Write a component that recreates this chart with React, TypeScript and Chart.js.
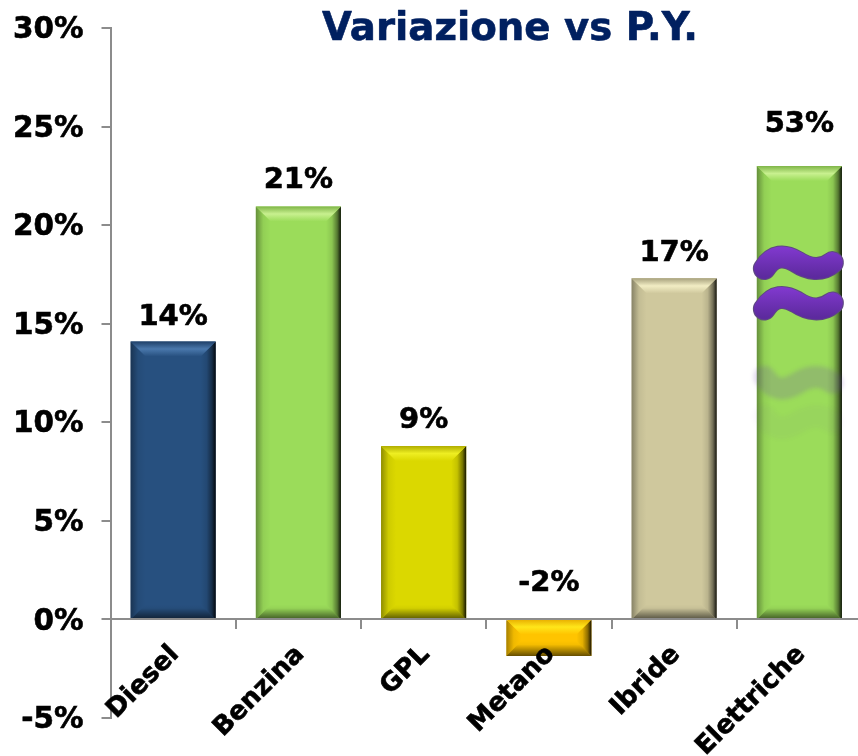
import React, { useEffect, useRef } from "react";
import { Chart, registerables } from "chart.js";

Chart.register(...registerables);

const categories = ["Diesel", "Benzina", "GPL", "Metano", "Ibride", "Elettriche"];
const values = [14.1, 20.95, 8.8, -1.85, 17.3, 23.0];
const shownLabels = ["14%", "21%", "9%", "-2%", "17%", "53%"];
const labelLevels = [15.45, 22.4, 10.2, 1.95, 18.7, 25.25];
const barColors = ["#27507f", "#9bdc5a", "#dbd800", "#ffc400", "#cfc89d", "#9bdc5a"];
const highlightColors = ["#4a78ac", "#c8f08f", "#eeee22", "#ffe61a", "#f2edc4", "#c8f08f"];
const edgeColors = ["#1f4068", "#7fb548", "#b0ad00", "#e8ae00", "#a8a27e", "#7fb548"];
const breakLevels = [18.1, 16.05];
const ghostLevels = [12.0, 10.0];
const ghostAlpha = [0.2, 0.04];
const breakIndex = 5;

const FONT = '"DejaVu Sans", Verdana, sans-serif';
const GREY = "#8c8c8c";

function bevel(ctx: CanvasRenderingContext2D, l: number, t: number, r: number, b: number, i: number) {
  const d = Math.min(15, Math.abs(b - t) / 2);
  const band = (pts: number[][], g: CanvasGradient) => {
    ctx.fillStyle = g;
    ctx.beginPath();
    pts.forEach((p, n) => (n ? ctx.lineTo(p[0], p[1]) : ctx.moveTo(p[0], p[1])));
    ctx.closePath();
    ctx.fill();
  };
  const right = ctx.createLinearGradient(r - d, 0, r, 0);
  right.addColorStop(0, "rgba(0,0,0,0)");
  right.addColorStop(0.4, "rgba(0,0,0,0.1)");
  right.addColorStop(0.75, "rgba(0,0,0,0.45)");
  right.addColorStop(1, "rgba(0,0,0,0.9)");
  band([[r, t], [r, b], [r - d, b - d], [r - d, t + d]], right);

  const left = ctx.createLinearGradient(l, 0, l + d, 0);
  left.addColorStop(0, "rgba(0,0,0,0.35)");
  left.addColorStop(0.5, "rgba(0,0,0,0.06)");
  left.addColorStop(1, "rgba(0,0,0,0)");
  band([[l, t], [l + d, t + d], [l + d, b - d], [l, b]], left);

  const top = ctx.createLinearGradient(0, t, 0, t + d);
  top.addColorStop(0, edgeColors[i]);
  top.addColorStop(0.5, highlightColors[i]);
  top.addColorStop(1, barColors[i]);
  band([[l, t], [r, t], [r - d, t + d], [l + d, t + d]], top);

  const bottom = ctx.createLinearGradient(0, b - d, 0, b);
  bottom.addColorStop(0, "rgba(0,0,0,0)");
  bottom.addColorStop(0.25, "rgba(0,0,0,0.04)");
  bottom.addColorStop(1, "rgba(0,0,0,0.6)");
  band([[l + d, b - d], [r - d, b - d], [r, b], [l, b]], bottom);
}

function wave(ctx: CanvasRenderingContext2D, cx: number, cy: number, flip: number) {
  ctx.beginPath();
  ctx.moveTo(cx - 34, cy + 6 * flip);
  ctx.bezierCurveTo(cx - 25, cy - 8 * flip, cx - 14, cy - 8 * flip, cx - 2, cy - 1 * flip);
  ctx.bezierCurveTo(cx + 10, cy + 7 * flip, cx + 23, cy + 9 * flip, cx + 34, cy);
  ctx.stroke();
}

const decorations = {
  id: "decorations",
  afterDatasetsDraw(chart: any) {
    const { ctx, scales } = chart;
    const meta = chart.getDatasetMeta(0);
    const y = scales.y;
    ctx.save();
    meta.data.forEach((bar: any, i: number) => {
      const half = bar.width / 2;
      const zero = y.getPixelForValue(0);
      bevel(ctx, bar.x - half, Math.min(bar.y, zero), bar.x + half, Math.max(bar.y, zero), i);
    });
    const cx = meta.data[breakIndex].x - 1;
    ctx.lineCap = "round";
    ctx.lineJoin = "round";
    breakLevels.forEach((v) => {
      const cy = y.getPixelForValue(v);
      const g = ctx.createLinearGradient(0, cy - 14, 0, cy + 14);
      g.addColorStop(0, "#7f38cc");
      g.addColorStop(1, "#5d2a9e");
      ctx.lineWidth = 23;
      ctx.strokeStyle = "#5e4a80";
      wave(ctx, cx, cy, 1);
      ctx.lineWidth = 21;
      ctx.strokeStyle = g;
      wave(ctx, cx, cy, 1);
    });
    ctx.filter = "blur(2px)";
    ghostLevels.forEach((v, i) => {
      ctx.globalAlpha = ghostAlpha[i];
      ctx.lineWidth = 22;
      ctx.strokeStyle = "#6a3ab0";
      wave(ctx, cx, y.getPixelForValue(v), -1);
    });
    ctx.filter = "none";
    ctx.globalAlpha = 1;
    ctx.fillStyle = "#000";
    ctx.strokeStyle = "#000";
    ctx.lineWidth = 0.6;
    ctx.font = `bold 29px ${FONT}`;
    ctx.textAlign = "center";
    ctx.textBaseline = "middle";
    meta.data.forEach((bar: any, i: number) => {
      const py = y.getPixelForValue(labelLevels[i]) + 2.5;
      ctx.fillText(shownLabels[i], bar.x, py);
      ctx.strokeText(shownLabels[i], bar.x, py);
    });
    ctx.fillStyle = "#002060";
    ctx.strokeStyle = "#002060";
    ctx.font = `bold 38.7px ${FONT}`;
    ctx.fillText("Variazione vs P.Y.", 510, 30);
    ctx.strokeText("Variazione vs P.Y.", 510, 30);
    ctx.restore();
  },
};

export default function App() {
  const ref = useRef<HTMLCanvasElement>(null);
  useEffect(() => {
    document.body.style.margin = "0";
    const chart = new Chart(ref.current!, {
      type: "bar",
      data: {
        labels: categories,
        datasets: [{ data: values, backgroundColor: barColors, borderWidth: 0, barPercentage: 0.68, categoryPercentage: 1 }],
      },
      plugins: [decorations],
      options: {
        animation: false,
        responsive: false,
        layout: { padding: { top: 28, bottom: 38, left: 0, right: 0 } },
        plugins: { legend: { display: false }, tooltip: { enabled: false }, title: { display: false } },
        scales: {
          x: {
            position: { y: 0 },
            offset: true,
            afterFit(s: any) {
              s.paddingTop = 0;
              s.paddingBottom = 0;
            },
            grid: { offset: true, drawOnChartArea: false, drawTicks: true, tickLength: 9, color: GREY, lineWidth: 2 },
            border: { color: GREY, width: 2, z: 1 },
            ticks: {
              z: 1,
              color: "#000",
              font: { family: FONT, weight: "bold", size: 26 },
              textStrokeColor: "#000",
              textStrokeWidth: 0.6,
              minRotation: 45,
              maxRotation: 45,
              autoSkip: false,
              padding: 11,
              labelOffset: 2,
            },
          },
          y: {
            min: -5,
            max: 30,
            afterFit(s: any) {
              s.width = 110.5;
              s.paddingTop = 0;
              s.paddingBottom = 0;
            },
            grid: { drawOnChartArea: false, tickLength: 9, color: GREY, lineWidth: 2 },
            border: { color: GREY, width: 2 },
            ticks: {
              stepSize: 5,
              color: "#000",
              padding: 18,
              labelOffset: 2.5,
              font: { family: FONT, weight: "bold", size: 29.5 },
              textStrokeColor: "#000",
              textStrokeWidth: 0.6,
              callback: (v: any) => `${v}%`,
            },
          },
        },
      } as any,
    });
    return () => chart.destroy();
  }, []);
  return (
    <div style={{ width: 858, height: 756, overflow: "hidden", position: "relative" }}>
      <canvas ref={ref} width={862} height={756} style={{ display: "block" }} />
    </div>
  );
}
